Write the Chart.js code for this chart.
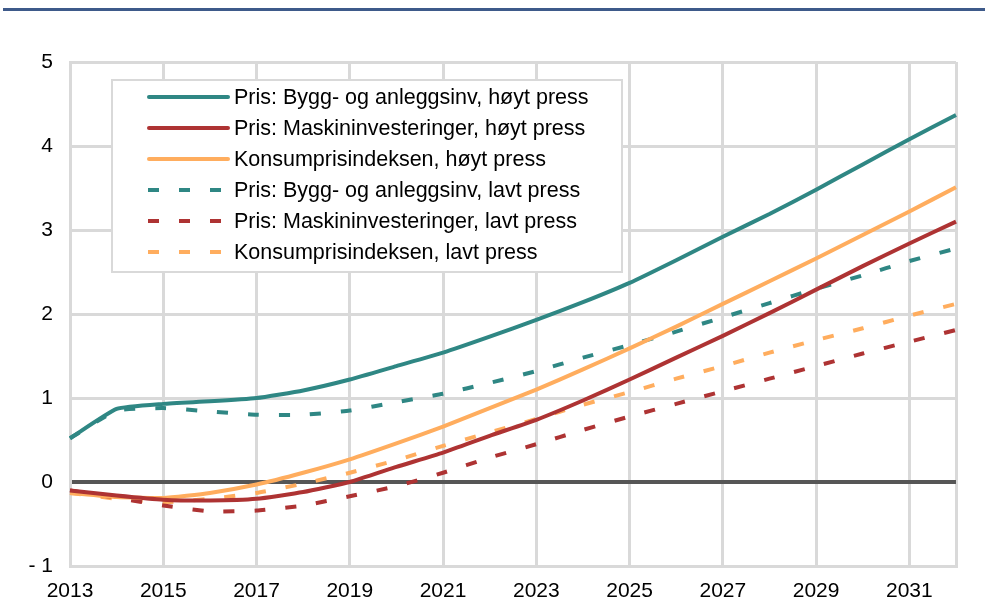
<!DOCTYPE html>
<html>
<head>
<meta charset="utf-8">
<script src="https://cdn.jsdelivr.net/npm/chart.js@4"></script>
<style>
  html, body { margin: 0; padding: 0; background: #fff; }
  #wrap { position: relative; width: 985px; height: 616px; }
  #topline { position: absolute; left: 3px; right: 0; top: 8px; height: 3px; background: #3e5a8a; }
  canvas { position: absolute; left: 0; top: 0; }
</style>
</head>
<body>
<div id="wrap">
  <canvas id="c" width="985" height="616"></canvas>
  <div id="topline"></div>
</div>
<script>
const years = ["2013","2014","2015","2016","2017","2018","2019","2020","2021","2022","2023","2024","2025","2026","2027","2028","2029","2030","2031","2032"];

const byggHoy = [0.52,0.87,0.93,0.96,1.00,1.09,1.22,1.38,1.54,1.73,1.93,2.14,2.37,2.64,2.92,3.19,3.48,3.78,4.08,4.37];
const maskinHoy = [-0.10,-0.16,-0.21,-0.22,-0.20,-0.12,0.00,0.18,0.35,0.55,0.74,0.97,1.22,1.48,1.74,2.01,2.29,2.57,2.84,3.10];
const kpiHoy = [-0.13,-0.18,-0.19,-0.13,-0.03,0.11,0.27,0.46,0.66,0.88,1.10,1.34,1.59,1.85,2.12,2.39,2.66,2.94,3.22,3.51];
const byggLav = [0.52,0.85,0.88,0.84,0.80,0.80,0.85,0.95,1.05,1.18,1.32,1.48,1.63,1.79,1.96,2.13,2.30,2.46,2.63,2.78];
const maskinLav = [-0.10,-0.19,-0.28,-0.35,-0.34,-0.28,-0.17,-0.05,0.11,0.29,0.45,0.62,0.78,0.93,1.08,1.23,1.38,1.53,1.67,1.81];
const kpiLav = [-0.13,-0.20,-0.24,-0.20,-0.13,-0.02,0.11,0.26,0.43,0.59,0.75,0.92,1.07,1.23,1.38,1.54,1.69,1.83,1.98,2.12];

const seriesLabels = [
  "Pris: Bygg- og anleggsinv, høyt press",
  "Pris: Maskininvesteringer, høyt press",
  "Konsumprisindeksen, høyt press",
  "Pris: Bygg- og anleggsinv, lavt press",
  "Pris: Maskininvesteringer, lavt press",
  "Konsumprisindeksen, lavt press"
];

const TEAL = '#2f8784', RED = '#ae3333', ORANGE = '#ffad5e';
const DASH = [11, 20];
const FONT = '"Liberation Sans", Arial, sans-serif';

function ds(label, data, color, dashed) {
  return {
    label, data,
    borderColor: color, backgroundColor: color,
    borderWidth: 4, borderDash: dashed ? DASH : [],
    borderCapStyle: 'butt', borderJoinStyle: 'round',
    pointRadius: 0, tension: 0.15, fill: false
  };
}

const legendPlugin = {
  id: 'boxLegend',
  afterDatasetsDraw(chart) {
    const ctx = chart.ctx;
    const x0 = 112, y0 = 80, w = 510, h = 192;
    ctx.save();
    ctx.fillStyle = '#fff';
    ctx.fillRect(x0, y0, w, h);
    ctx.strokeStyle = '#d9d9d9';
    ctx.lineWidth = 2;
    ctx.strokeRect(x0, y0, w, h);
    ctx.font = '21.5px ' + FONT;
    ctx.textBaseline = 'middle';
    ctx.fillStyle = '#000';
    chart.data.datasets.forEach((d, i) => {
      const y = 97 + i * 31;
      ctx.beginPath();
      ctx.strokeStyle = d.borderColor;
      ctx.lineWidth = 4;
      if (d.borderDash.length) {
        ctx.setLineDash(d.borderDash);
        ctx.lineCap = 'butt';
        ctx.moveTo(148, y); ctx.lineTo(230, y);
      } else {
        ctx.setLineDash([]);
        ctx.lineCap = 'round';
        ctx.moveTo(149, y); ctx.lineTo(228, y);
      }
      ctx.stroke();
      ctx.setLineDash([]);
      ctx.fillText(d.label, 234, y + 1);
    });
    ctx.restore();
  }
};

new Chart(document.getElementById('c'), {
  type: 'line',
  data: {
    labels: years,
    datasets: [
      ds(seriesLabels[0], byggHoy, TEAL, false),
      ds(seriesLabels[1], maskinHoy, RED, false),
      ds(seriesLabels[2], kpiHoy, ORANGE, false),
      ds(seriesLabels[3], byggLav, TEAL, true),
      ds(seriesLabels[4], maskinLav, RED, true),
      ds(seriesLabels[5], kpiLav, ORANGE, true)
    ]
  },
  options: {
    responsive: false,
    animation: false,
    layout: { padding: { top: 62, right: 29, left: 0, bottom: 0 } },
    plugins: { legend: { display: false }, tooltip: { enabled: false } },
    scales: {
      x: {
        type: 'category',
        offset: false,
        afterFit(s) { s.height = 50; },
        grid: {
          drawTicks: false,
          lineWidth: 3,
          color: (c) => (c.index % 2 === 0 || c.index === years.length - 1) ? '#d9d9d9' : 'rgba(0,0,0,0)'
        },
        border: { color: '#d9d9d9', width: 3 },
        ticks: {
          autoSkip: false, maxRotation: 0, padding: 13,
          color: '#000', font: { family: FONT, size: 21 },
          callback: function (v, i) { return i % 2 === 0 ? this.getLabelForValue(v) : ''; }
        }
      },
      y: {
        min: -1, max: 5,
        afterFit(s) { s.width = 70; },
        grid: {
          drawTicks: false,
          lineWidth: (c) => c.tick && c.tick.value === 0 ? 4 : 3,
          color: (c) => c.tick && c.tick.value === 0 ? '#565656' : '#d9d9d9'
        },
        border: { color: '#d9d9d9', width: 3 },
        ticks: {
          stepSize: 1, padding: 17,
          color: '#000', font: { family: FONT, size: 21 },
          callback: (v) => v < 0 ? '- ' + Math.abs(v) : String(v)
        }
      }
    }
  },
  plugins: [legendPlugin]
});
</script>
</body>
</html>
